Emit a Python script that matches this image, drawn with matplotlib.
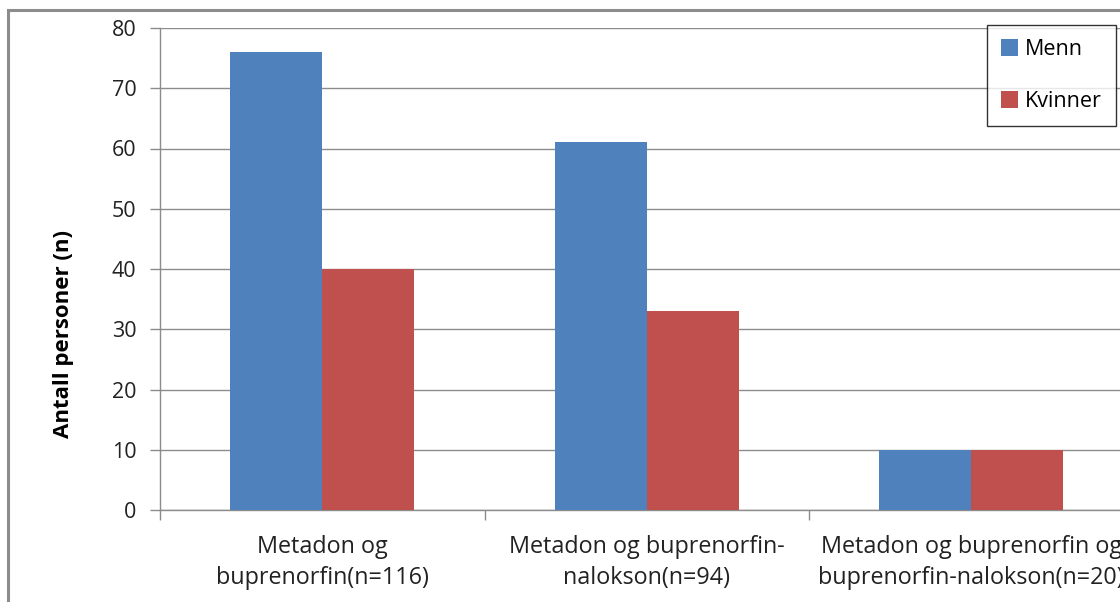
import matplotlib.pyplot as plt
from matplotlib.patches import Rectangle
import numpy as np

plt.rcParams['font.family'] = ['Open Sans', 'DejaVu Sans']

# data
categories = ["Metadon og\nbuprenorfin(n=116)",
              "Metadon og buprenorfin-\nnalokson(n=94)",
              "Metadon og buprenorfin og\nbuprenorfin-nalokson(n=20)"]
menn = [76, 61, 10]
kvinner = [40, 33, 10]
yticks = [0, 10, 20, 30, 40, 50, 60, 70, 80]

W, H = 1120, 602
fig = plt.figure(figsize=(W / 100, H / 100), dpi=100)
fig.patch.set_facecolor("white")

# outer chart frame (runs off the right/bottom edge)
top = 1 - 10 / H
fig.patches.append(Rectangle((8 / W, -0.1), 1.2, top + 0.1,
                             transform=fig.transFigure, fill=False,
                             edgecolor="#8c8c8c", linewidth=2.2))

ax = fig.add_axes([160 / W, 92 / H, (1133.5 - 160) / W, (510 - 28) / H])

x = np.arange(len(categories))
bw = 0.2835
ax.bar(x - bw, menn, bw, align="edge", color="#4F81BD", label="Menn", zorder=3)
ax.bar(x, kvinner, bw, align="edge", color="#C0504D", label="Kvinner", zorder=3)

ax.set_xlim(-0.5, 2.5)
ax.set_ylim(0, 80)
ax.set_yticks(yticks)
ax.grid(axis="y", color="#8c8c8c", linewidth=1.0, zorder=0)

ax.set_xticks(x)
ax.set_xticklabels(categories, fontsize=16.8, color="#222222", linespacing=1.4)
ax.set_xticks(np.arange(-0.5, 3.0, 1.0), minor=True)
ax.tick_params(axis="x", which="major", length=0, pad=18)
ax.tick_params(axis="x", which="minor", length=7, color="#8c8c8c", width=1)
ax.tick_params(axis="y", length=7, color="#8c8c8c", width=1, labelsize=15.5,
               labelcolor="#222222", pad=10)

for s in ["top", "right"]:
    ax.spines[s].set_visible(False)
for s in ["left", "bottom"]:
    ax.spines[s].set_color("#8c8c8c")
    ax.spines[s].set_linewidth(1.0)

ax.set_ylabel("Antall personer (n)", fontsize=16, fontweight="bold")
ax.yaxis.set_label_coords(-0.088, 0.365)

leg = fig.legend(loc="upper left", bbox_to_anchor=(987 / W, 1 - 25 / H),
                 frameon=True, fancybox=False, fontsize=15.5, handlelength=0.8,
                 handleheight=0.8, handletextpad=0.3, labelspacing=1.45,
                 borderpad=0.65, borderaxespad=0)
leg.get_frame().set_edgecolor("black")
leg.get_frame().set_linewidth(1.0)

fig.savefig("out.png", dpi=100)
